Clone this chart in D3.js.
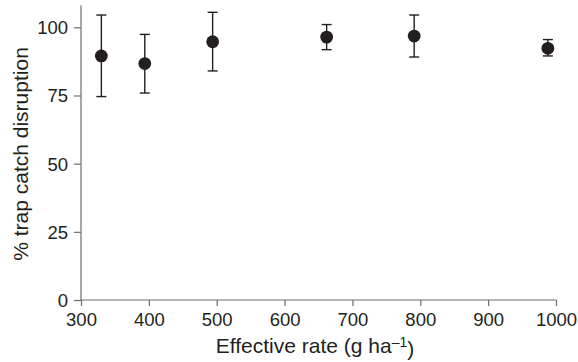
<!DOCTYPE html>
<meta charset="utf-8">
<style>
  body { margin: 0; background: #fff; }
  text { font-family: "Liberation Sans", Arial, sans-serif; fill: #231f20; }
  .axis path, .axis line { stroke: #6d6d6d; stroke-width: 1.2; }
  .axis text { font-size: 18.5px; fill: #231f20; }
</style>
<body></body>
<script src="https://d3js.org/d3.v7.min.js"></script>
<script>
// data
var rate  = [330, 394, 494, 662, 791, 988];
var mean  = [89.5, 86.7, 94.7, 96.4, 96.8, 92.3];
var upper = [104.5, 97.4, 105.5, 101.0, 104.5, 95.5];
var lower = [74.6, 75.9, 84.0, 91.8, 89.1, 89.5];
var xTicks = [300, 400, 500, 600, 700, 800, 900, 1000];
var yTicks = [0, 25, 50, 75, 100];

var W = 578, H = 362;
var x = d3.scaleLinear().domain([300, 1000]).range([81, 556]);
var y = d3.scaleLinear().domain([0, 100]).range([300, 27.3]);

var svg = d3.select("body").append("svg")
    .attr("width", W).attr("height", H);

// x axis
var gx = svg.append("g").attr("class", "axis")
    .attr("transform", "translate(0,300)")
    .call(d3.axisBottom(x).tickValues(xTicks).tickFormat(d3.format("d"))
      .tickSize(6).tickSizeOuter(0).tickPadding(7));
gx.select(".domain").attr("d", "M" + x(300) + ",0H" + x(1000));

// y axis (line runs a little above 100)
var gy = svg.append("g").attr("class", "axis")
    .attr("transform", "translate(81,0)")
    .call(d3.axisLeft(y).tickValues(yTicks).tickSize(7).tickSizeOuter(0).tickPadding(6));
gy.select(".domain").attr("d", "M0," + y(108) + "V" + y(0));
gy.selectAll("text").attr("dy", "0.35em");

// error bars
var pts = rate.map(function(d, i) { return {x: d, m: mean[i], hi: upper[i], lo: lower[i]}; });
var eb = svg.append("g").attr("stroke", "#231f20").attr("stroke-width", 1.4);
eb.selectAll("line.v").data(pts).join("line")
    .attr("x1", d => x(d.x)).attr("x2", d => x(d.x))
    .attr("y1", d => y(d.hi)).attr("y2", d => y(d.lo));
eb.selectAll("line.t").data(pts).join("line")
    .attr("x1", d => x(d.x) - 5).attr("x2", d => x(d.x) + 5)
    .attr("y1", d => y(d.hi)).attr("y2", d => y(d.hi));
eb.selectAll("line.b").data(pts).join("line")
    .attr("x1", d => x(d.x) - 5).attr("x2", d => x(d.x) + 5)
    .attr("y1", d => y(d.lo)).attr("y2", d => y(d.lo));

svg.append("g").selectAll("circle").data(pts).join("circle")
    .attr("cx", d => x(d.x)).attr("cy", d => y(d.m))
    .attr("r", 6.4).attr("fill", "#231f20");

// axis titles
var xt = svg.append("text")
    .attr("x", 315).attr("y", 353)
    .attr("text-anchor", "middle").style("font-size", "21px")
    .text("Effective rate (g ha");
xt.append("tspan").attr("dy", "-0.45em").style("font-size", "14px").text("–1");
xt.append("tspan").attr("dy", "0.45em").text(")");

svg.append("text")
    .attr("transform", "translate(28,154) rotate(-90)")
    .attr("text-anchor", "middle").style("font-size", "21px")
    .text("% trap catch disruption");
</script>
